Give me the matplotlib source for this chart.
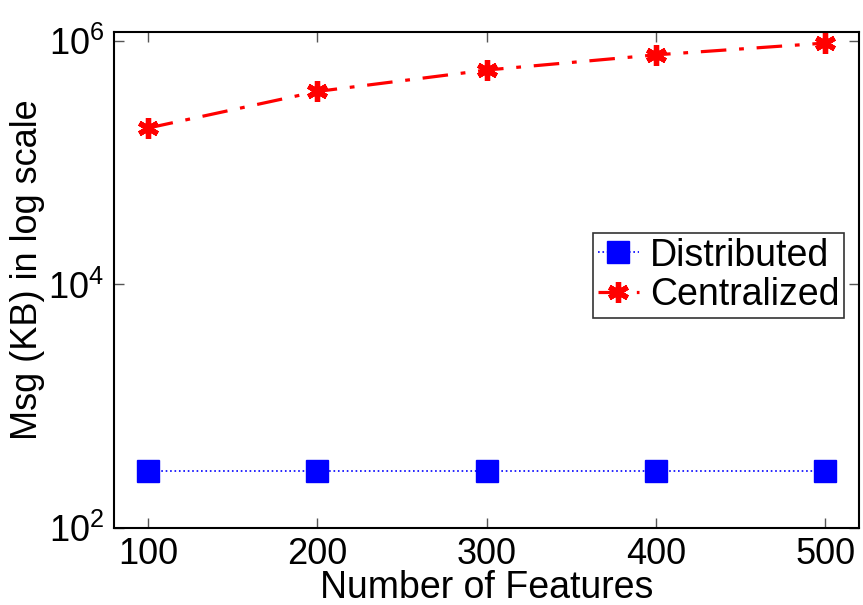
import matplotlib
matplotlib.use("Agg")
import matplotlib.pyplot as plt
from matplotlib.ticker import FixedLocator, FixedFormatter, NullLocator

plt.rcParams['font.family'] = ['Liberation Sans', 'DejaVu Sans']
plt.rcParams['mathtext.fontset'] = 'custom'
plt.rcParams['mathtext.rm'] = 'Liberation Sans'
plt.rcParams['mathtext.it'] = 'Liberation Sans:italic'
plt.rcParams['mathtext.bf'] = 'Liberation Sans:bold'

features = [100, 200, 300, 400, 500]
distributed = [290, 290, 290, 290, 290]
centralized = [193000, 386000, 579000, 772000, 965000]
y_ticks = [1e2, 1e4, 1e6]
y_tick_labels = [r'$10^{2}$', r'$10^{4}$', r'$10^{6}$']

fig = plt.figure(figsize=(8.63, 6.05), dpi=100)
ax = fig.add_axes([0.1321, 0.1278, 0.8633, 0.8193])

ax.plot(features, distributed, color='blue', linestyle=':', linewidth=1.2,
        marker='s', markersize=16, markerfacecolor='blue',
        markeredgecolor='blue', label='Distributed')
ax.plot(features, centralized, color='red', linestyle='-.', linewidth=2.3,
        dashes=(8, 4, 1.5, 4),
        marker=(6, 2, 0), markersize=15, markeredgewidth=3.8,
        markeredgecolor='red', label='Centralized')

ax.set_yscale('log')
ax.set_xlim(80, 520)
ax.set_ylim(100, 1.19e6)
ax.set_xticks(features)
ax.yaxis.set_major_locator(FixedLocator(y_ticks))
ax.yaxis.set_major_formatter(FixedFormatter(y_tick_labels))
ax.yaxis.set_minor_locator(NullLocator())

ax.tick_params(axis='both', which='major', direction='in', length=7,
               width=1, color='#555555', labelsize=26, top=True, right=True,
               pad=7)
for s in ax.spines.values():
    s.set_linewidth(1.5)

ax.set_xlabel('Number of Features', fontsize=27, labelpad=-2)
ax.set_ylabel('Msg (KB) in log scale', fontsize=26)
ax.yaxis.set_label_coords(-0.093, 0.52)

leg = ax.legend(loc='upper right', bbox_to_anchor=(0.98, 0.5945),
                fontsize=27, frameon=True, fancybox=False, edgecolor='black',
                handlelength=1.1, handletextpad=0.3, borderpad=0.12,
                labelspacing=0.1, borderaxespad=0.0)
leg.get_frame().set_linewidth(1.2)

fig.savefig('out.png', dpi=100)
